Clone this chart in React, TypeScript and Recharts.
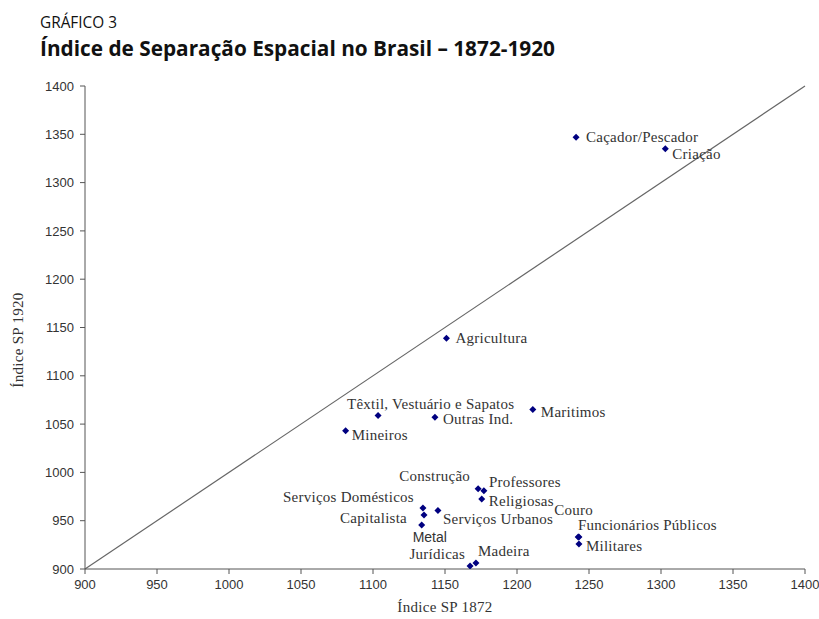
import React from 'react';
import { ScatterChart, Scatter, XAxis, YAxis, ReferenceLine } from 'recharts';

const names = [
  'Caçador/Pescador', 'Criação', 'Agricultura', 'Têxtil, Vestuário e Sapatos', 'Outras Ind.',
  'Maritimos', 'Mineiros', 'Construção', 'Professores', 'Religiosas', 'Couro',
  'Serviços Domésticos', 'Capitalista', 'Serviços Urbanos', 'Metal', 'Jurídicas', 'Madeira',
  'Funcionários Públicos', 'Militares',
];
const sp1872 = [1241, 1303, 1151, 1103.5, 1143, 1211, 1081, 1173, 1177, 1175.5, 1242.5, 1134.7, 1135.4, 1145.1, 1133.8, 1167.4, 1171.5, 1243, 1243];
const sp1920 = [1347, 1335, 1139, 1059, 1057, 1065, 1043, 983, 981, 972.5, 933, 963.1, 955.9, 960.6, 945.5, 903.1, 906.2, 933, 926];
const xTicks = [900, 950, 1000, 1050, 1100, 1150, 1200, 1250, 1300, 1350, 1400];
const yTicks = [900, 950, 1000, 1050, 1100, 1150, 1200, 1250, 1300, 1350, 1400];

// where each label sits relative to its marker
const labelPos: Record<string, { dx: number; dy: number; anchor?: 'start' | 'end'; sans?: boolean }> = {
  'Caçador/Pescador': { dx: 10, dy: 0 },
  'Criação': { dx: 7, dy: 5 },
  'Agricultura': { dx: 9, dy: 0 },
  'Têxtil, Vestuário e Sapatos': { dx: -31, dy: -12 },
  'Outras Ind.': { dx: 8, dy: 1 },
  'Maritimos': { dx: 8, dy: 2 },
  'Mineiros': { dx: 6, dy: 4 },
  'Construção': { dx: -8, dy: -13, anchor: 'end' },
  'Professores': { dx: 5, dy: -9 },
  'Religiosas': { dx: 7, dy: 2 },
  'Couro': { dx: -24, dy: -27 },
  'Serviços Domésticos': { dx: -9, dy: -11, anchor: 'end' },
  'Capitalista': { dx: -17, dy: 3, anchor: 'end' },
  'Serviços Urbanos': { dx: 5, dy: 8 },
  'Metal': { dx: -9, dy: 12, sans: true },
  'Jurídicas': { dx: -5, dy: -12, anchor: 'end' },
  'Madeira': { dx: 2, dy: -12 },
  'Funcionários Públicos': { dx: -1, dy: -12 },
  'Militares': { dx: 7, dy: 2 },
};

const data = names.map((name, i) => ({ name, x: sp1872[i], y: sp1920[i] }));

const serif = 'Liberation Serif, Times New Roman, serif';
const sans = 'Liberation Sans, Arial, sans-serif';

const Point = (props: any) => {
  const { cx, cy, payload } = props;
  const p = labelPos[payload.name] || { dx: 8, dy: 0 };
  const r = 3.5;
  return (
    <g>
      <path d={`M${cx},${cy - r}L${cx + r},${cy}L${cx},${cy + r}L${cx - r},${cy}Z`} fill="#000080" />
      <text
        x={cx + p.dx}
        y={cy + p.dy}
        dy="0.35em"
        textAnchor={p.anchor || 'start'}
        fontFamily={p.sans ? sans : serif}
        fontSize={p.sans ? 14 : 15}
        letterSpacing={p.sans ? 0 : 0.25}
        fill="#333"
      >
        {payload.name}
      </text>
    </g>
  );
};

export default function App() {
  return (
    <div style={{ position: 'absolute', left: 0, top: 0, width: 819, height: 619, background: '#fff' }}>
      <svg width={819} height={70} style={{ position: 'absolute', left: 0, top: 0 }}>
        <text x={40} y={28} fontFamily="Open Sans, sans-serif" fontSize={16} fill="#111" textLength={77} lengthAdjust="spacingAndGlyphs">
          GRÁFICO 3
        </text>
        <text x={40} y={56} fontFamily="Open Sans, sans-serif" fontSize={22} fontWeight="bold" fill="#111" textLength={515} lengthAdjust="spacingAndGlyphs">
          Índice de Separação Espacial no Brasil – 1872-1920
        </text>
      </svg>
      <div style={{ position: 'absolute', left: 0, top: 0 }}>
        <ScatterChart width={819} height={619} margin={{ top: 86, right: 14, bottom: 0, left: 0 }}>
          <XAxis
            type="number"
            dataKey="x"
            domain={[900, 1400]}
            ticks={xTicks}
            allowDataOverflow
            height={50}
            tickSize={5}
            tickMargin={6}
            stroke="#555"
            tick={{ fill: '#333', fontSize: 13, fontFamily: sans }}
          />
          <YAxis
            type="number"
            dataKey="y"
            domain={[900, 1400]}
            ticks={yTicks}
            allowDataOverflow
            width={85}
            tickSize={5}
            tickMargin={6}
            stroke="#555"
            tick={{ fill: '#333', fontSize: 13, fontFamily: sans }}
          />
          <ReferenceLine
            segment={[{ x: 900, y: 900 }, { x: 1400, y: 1400 }]}
            stroke="#666"
            strokeWidth={1.2}
          />
          <Scatter data={data} shape={<Point />} isAnimationActive={false} />
        </ScatterChart>
      </div>
      <div
        style={{
          position: 'absolute', left: 445, top: 607, transform: 'translate(-50%, -50%)',
          fontFamily: serif, fontSize: 15, letterSpacing: 0.3, color: '#333', whiteSpace: 'nowrap',
        }}
      >
        Índice SP 1872
      </div>
      <div
        style={{
          position: 'absolute', left: 18, top: 340, transform: 'translate(-50%, -50%) rotate(-90deg)',
          fontFamily: serif, fontSize: 15, letterSpacing: 0.3, color: '#333', whiteSpace: 'nowrap',
        }}
      >
        Índice SP 1920
      </div>
    </div>
  );
}
